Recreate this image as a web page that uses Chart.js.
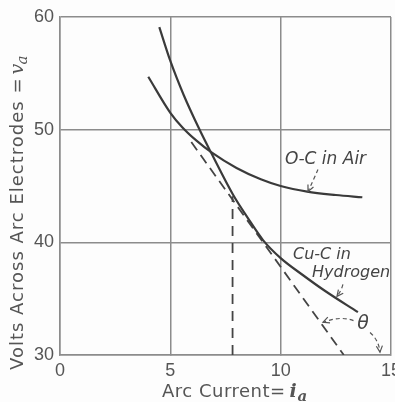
<!DOCTYPE html>
<html>
<head>
<meta charset="utf-8">
<script src="https://cdn.jsdelivr.net/npm/chart.js@4/dist/chart.umd.min.js"></script>
<style>
  html, body { margin: 0; padding: 0; background: #fdfdfd; }
  #wrap { width: 395px; height: 402px; }
</style>
</head>
<body>
<div id="wrap"><canvas id="arcChart"></canvas></div>
<script>
/* ========================================
   DATA
======================================== */
const xTicks = [0, 5, 10, 15];
const yTicks = [30, 40, 50, 60];

// O-C arc in air
const airCurrent = [4.0, 5.0, 5.55, 6.2, 6.85, 8.0, 9.1, 10.0, 11.2, 12.5, 13.7];
const airVolts   = [54.7, 51.5, 50.2, 49.0, 48.0, 46.6, 45.6, 45.0, 44.5, 44.2, 44.0];

// Cu-C arc in hydrogen
const hydCurrent = [4.5, 5.0, 5.6, 6.3, 6.85, 7.85, 8.5, 9.2, 10.0, 11.0, 12.0, 13.5];
const hydVolts   = [59.1, 56.1, 53.1, 50.1, 47.95, 44.2, 42.2, 40.2, 38.6, 37.1, 35.7, 33.8];

// dashed tangent and the dashed drop line at the tangent point
const tangentCurrent = [5.95, 12.86];
const tangentVolts   = [48.9, 30.0];
const dropCurrent = [7.82, 7.82];
const dropVolts   = [30.0, 44.1];

const INK = "#3a3a3a";
const GRID = "#8c8c8c";
const LABEL = "#555";

function pts(xs, ys) {
  return xs.map((v, i) => ({ x: v, y: ys[i] }));
}

/* ========================================
   DASHED ARROW HELPER
======================================== */
function dashedArrow(ctx, p0, c, p1) {
  ctx.save();
  ctx.setLineDash([4, 3]);
  ctx.lineWidth = 1.2;
  ctx.strokeStyle = "#555";
  ctx.beginPath();
  ctx.moveTo(p0[0], p0[1]);
  ctx.quadraticCurveTo(c[0], c[1], p1[0], p1[1]);
  ctx.stroke();
  ctx.setLineDash([]);
  const a = Math.atan2(p1[1] - c[1], p1[0] - c[0]);
  ctx.beginPath();
  ctx.moveTo(p1[0] - 7 * Math.cos(a - 0.45), p1[1] - 7 * Math.sin(a - 0.45));
  ctx.lineTo(p1[0], p1[1]);
  ctx.lineTo(p1[0] - 7 * Math.cos(a + 0.45), p1[1] - 7 * Math.sin(a + 0.45));
  ctx.stroke();
  ctx.restore();
}

/* ========================================
   LABELS, ARROWS, AXIS TITLES
======================================== */
const notes = {
  id: "notes",
  afterDatasetsDraw(chart) {
    const { ctx, scales: { x, y } } = chart;
    const P = (a, b) => [x.getPixelForValue(a), y.getPixelForValue(b)];

    ctx.save();
    ctx.fillStyle = "#444";
    ctx.textBaseline = "middle";
    ctx.textAlign = "left";

    ctx.font = 'italic 17px "DejaVu Sans"';
    let p = P(10.2, 47.35);
    ctx.fillText("O-C in Air", p[0], p[1]);

    ctx.font = 'italic 16px "DejaVu Sans"';
    p = P(10.56, 38.93);
    ctx.fillText("Cu-C in", p[0], p[1]);
    p = P(11.42, 37.33);
    ctx.fillText("Hydrogen", p[0], p[1]);

    ctx.font = 'italic 19px "DejaVu Sans"';
    p = P(13.73, 32.72);
    ctx.textAlign = "center";
    ctx.fillText("θ", p[0], p[1]);
    ctx.restore();

    dashedArrow(ctx, P(11.69, 46.47), P(11.5, 45.6), P(11.24, 44.52));
    dashedArrow(ctx, P(12.82, 36.26), P(12.75, 35.7), P(12.55, 35.2));
    dashedArrow(ctx, P(13.3, 33.05), P(12.7, 33.5), P(11.92, 32.9));
    dashedArrow(ctx, P(14.05, 32.0), P(14.45, 31.3), P(14.5, 30.25));
  },
  afterDraw(chart) {
    const { ctx } = chart;
    ctx.save();
    ctx.fillStyle = LABEL;
    ctx.textBaseline = "alphabetic";

    // x title
    ctx.font = '18px "DejaVu Sans"';
    ctx.letterSpacing = "0.5px";
    ctx.fillText("Arc Current=", 162, 397);
    const w = ctx.measureText("Arc Current=").width;
    ctx.letterSpacing = "0px";
    ctx.font = 'bold italic 19px "DejaVu Serif"';
    ctx.fillText("i", 162 + w + 4, 397);
    ctx.font = 'bold italic 15px "DejaVu Serif"';
    ctx.fillText("a", 162 + w + 12, 401);

    // y title
    ctx.translate(23, 370);
    ctx.rotate(-Math.PI / 2);
    ctx.font = '18px "DejaVu Sans"';
    ctx.letterSpacing = "1px";
    ctx.fillText("Volts Across Arc Electrodes =", 0, 0);
    const wy = ctx.measureText("Volts Across Arc Electrodes =").width;
    ctx.letterSpacing = "0px";
    ctx.font = 'italic 19px "DejaVu Serif"';
    ctx.fillText("v", wy + 3, 0);
    ctx.font = 'italic 15px "DejaVu Serif"';
    ctx.fillText("a", wy + 13, 4);
    ctx.restore();
  }
};

/* ========================================
   CHART
======================================== */
const ctx = document.getElementById("arcChart").getContext("2d");

new Chart(ctx, {
  type: "scatter",
  data: {
    datasets: [
      {
        label: "O-C in Air",
        data: pts(airCurrent, airVolts),
        showLine: true,
        borderColor: INK,
        borderWidth: 2.2,
        pointRadius: 0,
        cubicInterpolationMode: "monotone"
      },
      {
        label: "Cu-C in Hydrogen",
        data: pts(hydCurrent, hydVolts),
        showLine: true,
        borderColor: INK,
        borderWidth: 2.2,
        pointRadius: 0,
        cubicInterpolationMode: "monotone"
      },
      {
        label: "tangent",
        data: pts(tangentCurrent, tangentVolts),
        showLine: true,
        borderColor: "#444",
        borderWidth: 1.8,
        borderDash: [10, 6],
        pointRadius: 0
      },
      {
        label: "drop",
        data: pts(dropCurrent, dropVolts),
        showLine: true,
        borderColor: "#444",
        borderWidth: 1.8,
        borderDash: [10, 7],
        pointRadius: 0
      }
    ]
  },
  options: {
    responsive: true,
    maintainAspectRatio: false,
    animation: false,
    layout: { padding: { top: 17, right: 4, left: 0, bottom: 0 } },
    plugins: {
      legend: { display: false },
      tooltip: { enabled: false }
    },
    scales: {
      x: {
        type: "linear",
        min: 0,
        max: 15,
        afterBuildTicks: s => { s.ticks = xTicks.map(v => ({ value: v })); },
        afterFit: s => { s.height = 47; s.paddingRight = 0; s.paddingLeft = 0; },
        grid: { color: GRID, lineWidth: 1.5, tickLength: 0 },
        border: { color: GRID, width: 1.5 },
        ticks: {
          color: LABEL,
          padding: 5,
          font: { family: "Liberation Sans", size: 18 }
        }
      },
      y: {
        type: "linear",
        min: 30,
        max: 60,
        afterBuildTicks: s => { s.ticks = yTicks.map(v => ({ value: v })); },
        afterFit: s => { s.width = 60; s.paddingTop = 0; s.paddingBottom = 0; },
        grid: { color: GRID, lineWidth: 1.5, tickLength: 0 },
        border: { color: GRID, width: 1.5 },
        ticks: {
          color: LABEL,
          padding: 6,
          font: { family: "Liberation Sans", size: 18 }
        }
      }
    }
  },
  plugins: [notes]
});
</script>
</body>
</html>
